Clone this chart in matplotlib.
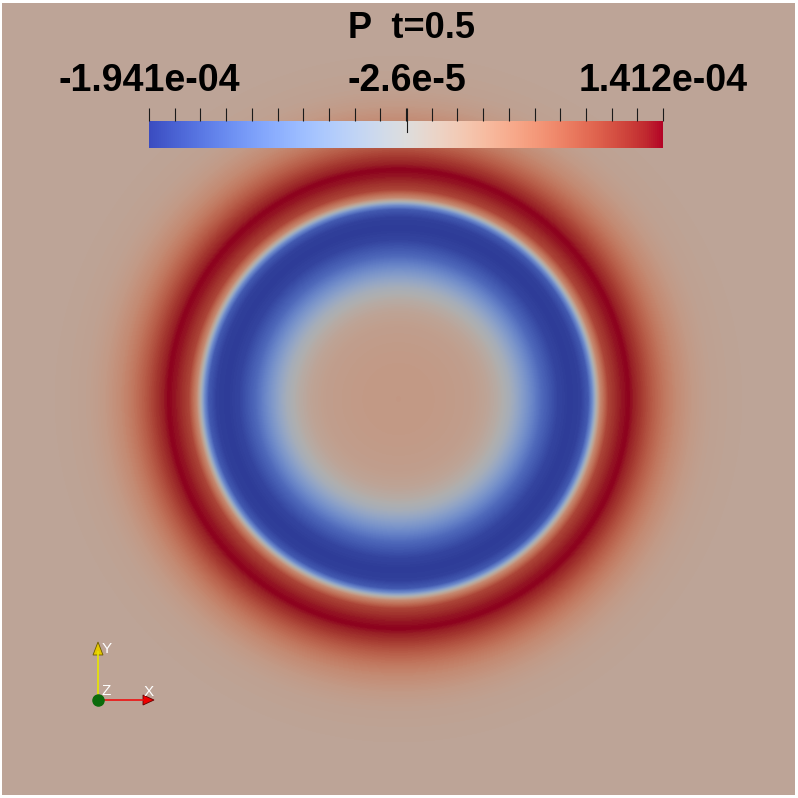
import numpy as np
import matplotlib
matplotlib.use("Agg")
import matplotlib.pyplot as plt
import matplotlib.tri as mtri
from matplotlib.colors import Normalize, ListedColormap
from matplotlib.cm import ScalarMappable

plt.rcParams["font.family"] = ["Liberation Sans", "DejaVu Sans"]

# ---------------------------
# Data read off the render
# ---------------------------
# radial pressure profile, r in domain units (half-width = 1), P in 1e-4
radius = [0.00, 0.10, 0.18, 0.22, 0.25, 0.28, 0.32, 0.36, 0.40, 0.43,
          0.46, 0.48, 0.49, 0.50, 0.51, 0.53, 0.56, 0.58, 0.61, 0.64,
          0.67, 0.70, 0.74, 0.78, 0.84, 0.92, 1.50]
pressure = [0.20, 0.18, 0.12, 0.02, -0.15, -0.40, -0.95, -1.50, -1.86, -1.94,
            -1.90, -1.65, -1.10, -0.26, 0.40, 1.05, 1.32, 1.41, 1.15, 0.85,
            0.58, 0.37, 0.18, 0.07, 0.02, 0.0, 0.0]

p_min = -1.941e-4
p_max = 1.412e-4
p_mid = -2.6e-5
tick_labels = ["-1.941e-04", "-2.6e-5", "1.412e-04"]
title = "P  t=0.5"

# ---------------------------
# Polar mesh of the profile
# ---------------------------
n_theta = 400
theta = np.linspace(0, 2 * np.pi, n_theta, endpoint=False)
R, T = np.meshgrid(radius[1:], theta)
x = np.concatenate([[0.0], (R * np.cos(T)).ravel()])
y = np.concatenate([[0.0], (R * np.sin(T)).ravel()])
P = np.concatenate([[pressure[0]], np.tile(pressure[1:], n_theta)]) * 1e-4
triang = mtri.Triangulation(x, y)

norm = Normalize(vmin=p_min, vmax=p_max)
base = plt.get_cmap("coolwarm")
# surface is lit, so the field looks darker than the bar
field_cmap = ListedColormap(base(np.linspace(0, 1, 256))[:, :3] * 0.79)

fig = plt.figure(figsize=(7.98, 7.98), dpi=100, facecolor="white")
W = 798.0

ax = fig.add_axes([2 / W, 3 / W, 793 / W, 792 / W])
ax.tricontourf(triang, P, levels=np.linspace(p_min, p_max, 200),
               cmap=field_cmap, norm=norm, extend="both")
ax.set_xlim(-1, 1)
ax.set_ylim(-1, 1)
ax.set_axis_off()

# ---------------------------
# Scalar bar
# ---------------------------
cax = fig.add_axes([149 / W, (W - 148) / W, 514 / W, 27 / W])
cb = fig.colorbar(ScalarMappable(norm=norm, cmap=base), cax=cax,
                  orientation="horizontal")
cb.outline.set_visible(False)
cax.xaxis.set_ticks_position("top")
cax.set_xticks([p_min, p_mid, p_max])
cax.set_xticklabels(tick_labels)
cax.set_xticks(np.linspace(p_min, p_max, 21), minor=True)
cax.tick_params(axis="x", which="both", direction="out", length=9.5,
                width=0.8, color="#1a1a1a", pad=6.5)
cax.tick_params(axis="x", which="major", labelsize=27, labelcolor="black")
for lbl in cax.get_xticklabels():
    lbl.set_fontweight("bold")
cax.axvline(p_mid, ymin=0.59, ymax=1.0, color="#1a1a1a", lw=0.8)

fig.text(412 / W, (W - 38) / W, title, ha="center", va="baseline",
         fontsize=26, fontweight="bold", color="black")

# ---------------------------
# Orientation triad
# ---------------------------
tri_ax = fig.add_axes([0, 0, 1, 1])
tri_ax.set_xlim(0, W)
tri_ax.set_ylim(W, 0)
tri_ax.set_axis_off()
tri_ax.plot([98, 98], [700, 652], color="#e6e600", lw=1.2)
tri_ax.plot([98, 143], [700, 700], color="#ee1111", lw=1.2)
tri_ax.fill([93, 103, 98], [655, 655, 642], color="#e6c800", ec="#6b5a00", lw=0.6)
tri_ax.fill([143, 143, 154], [695, 705, 700], color="#ee0000", ec="#600000", lw=0.6)
tri_ax.plot([98], [700], "o", color="#0b6b0b", ms=8)
tri_ax.text(102, 649, "Y", color="white", fontsize=11, va="center")
tri_ax.text(101, 691, "Z", color="white", fontsize=11, va="center")
tri_ax.text(144, 692, "X", color="white", fontsize=11, va="center")

fig.savefig("out.png", dpi=100, facecolor="white")
